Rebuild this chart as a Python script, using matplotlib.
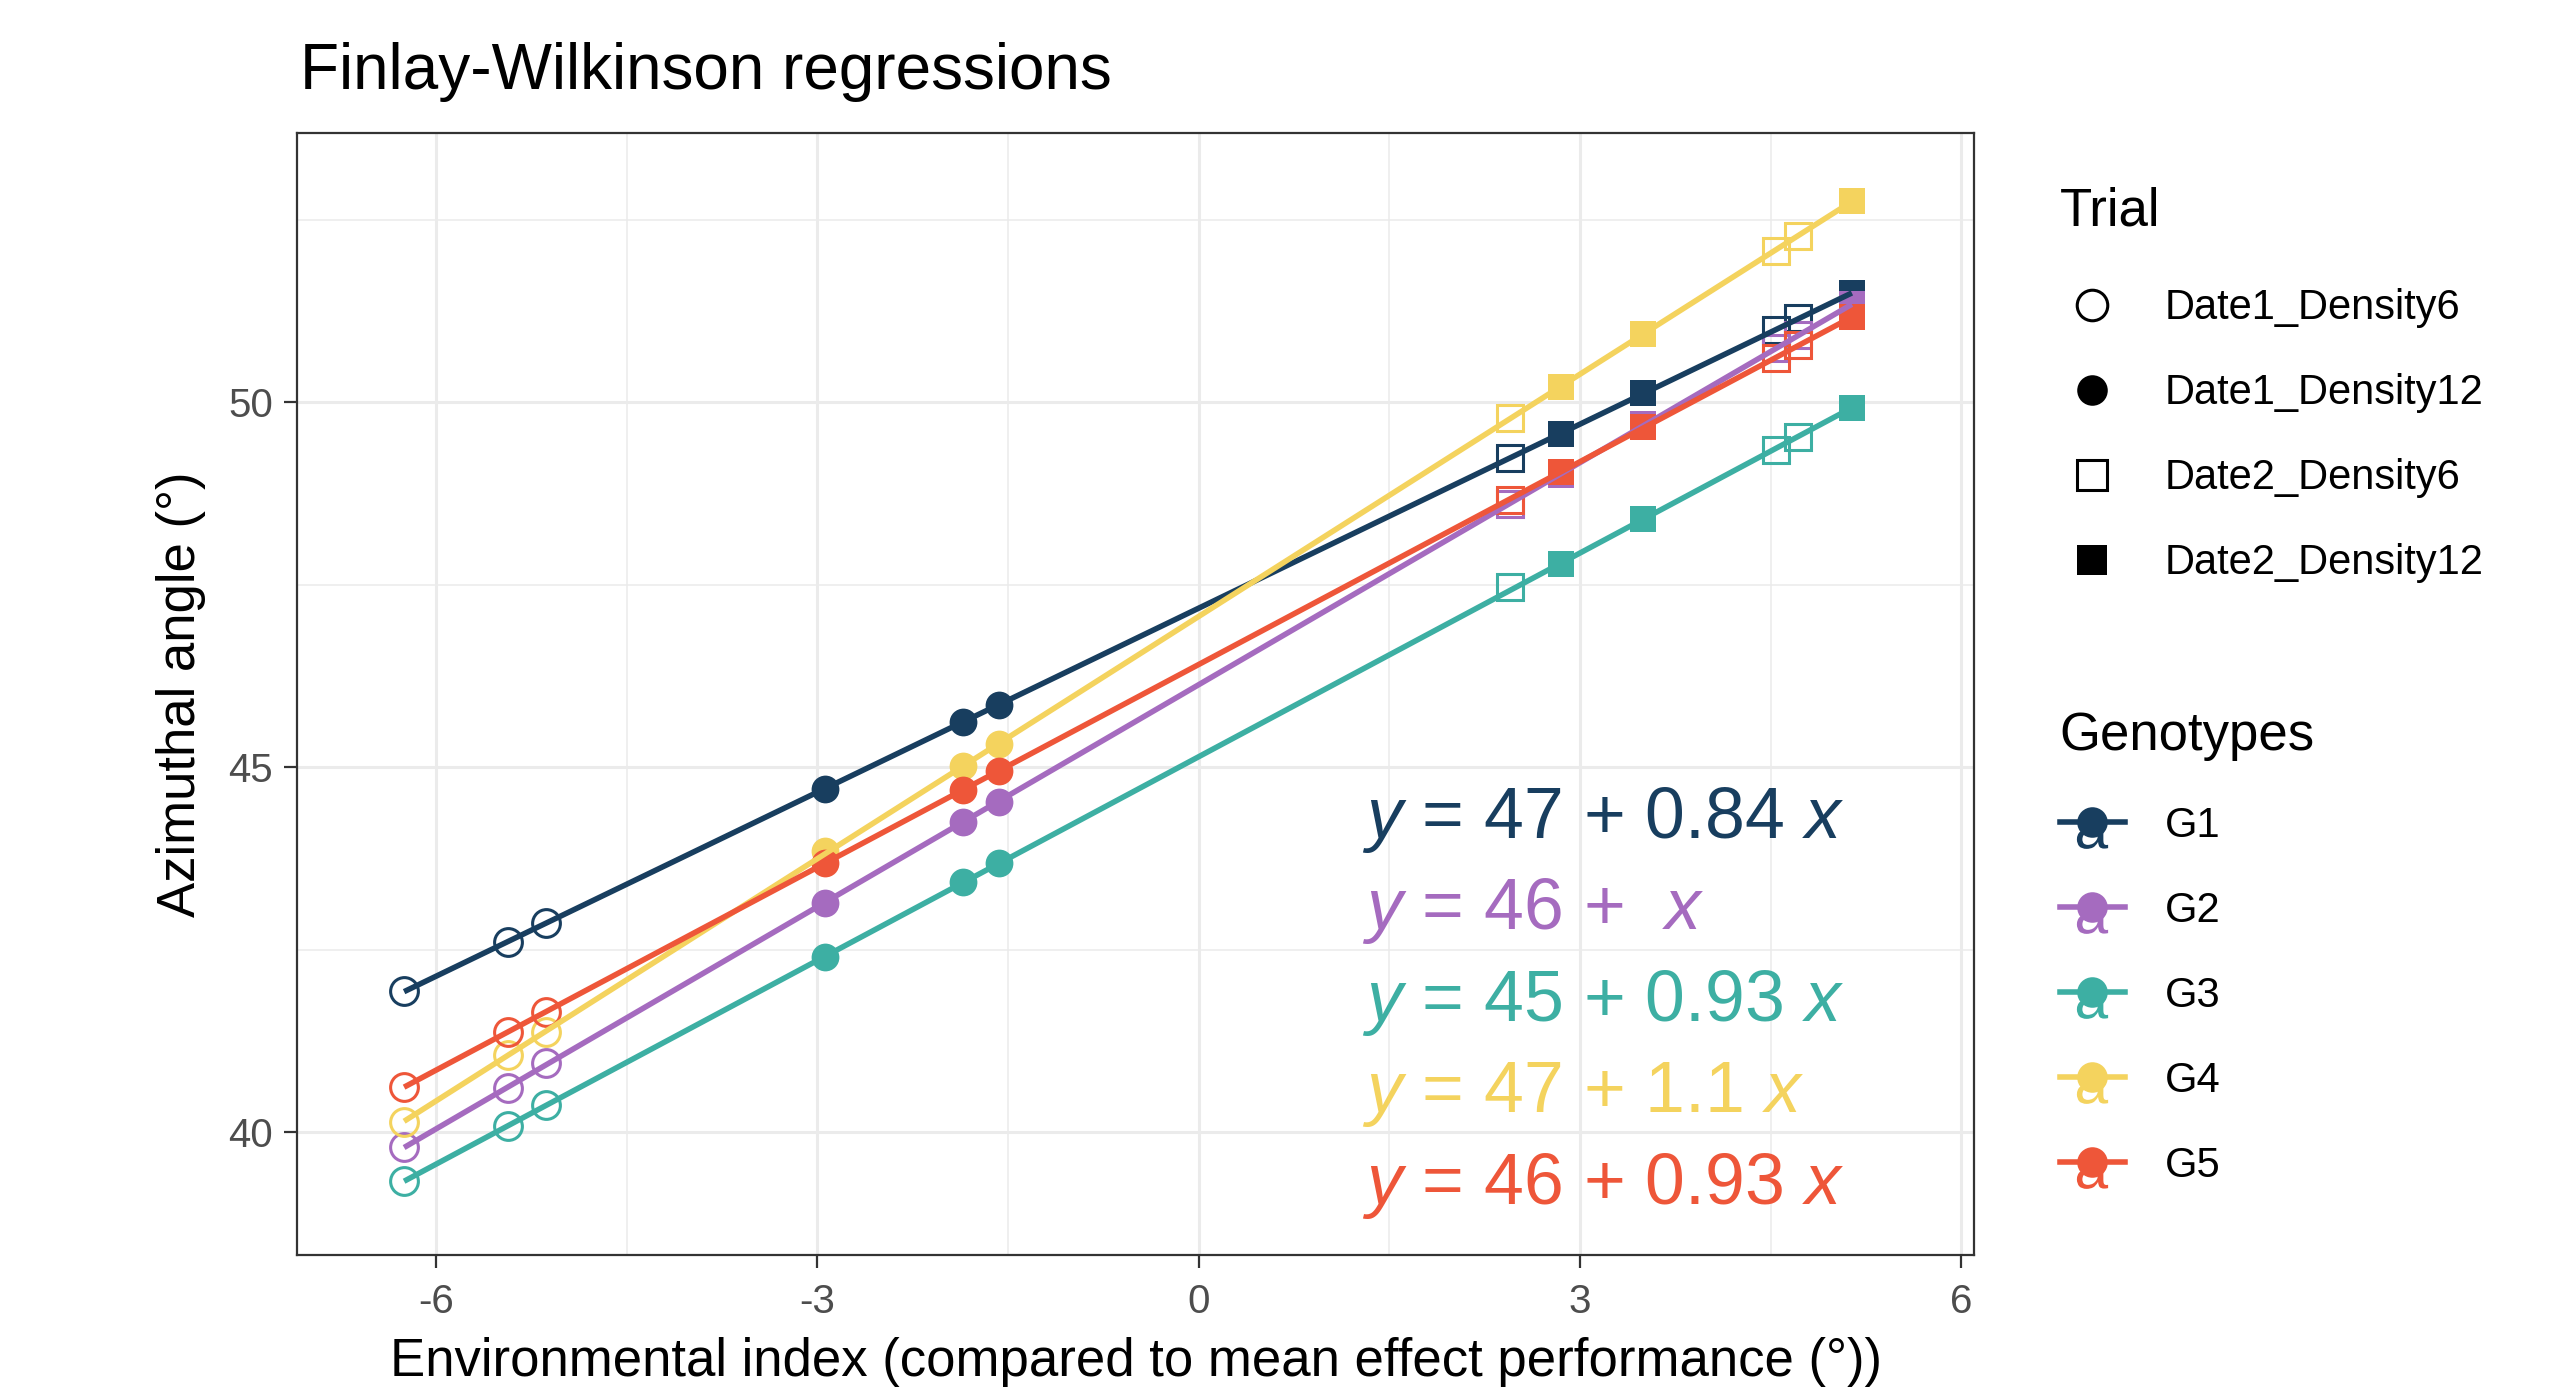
import numpy as np
import matplotlib
matplotlib.use('Agg')
import matplotlib.pyplot as plt
from matplotlib.lines import Line2D
from matplotlib.path import Path
from matplotlib.textpath import TextPath
from matplotlib.font_manager import FontProperties

plt.rcParams['font.family'] = ['Liberation Sans', 'DejaVu Sans']
plt.rcParams['mathtext.fontset'] = 'custom'
plt.rcParams['mathtext.rm'] = 'Liberation Sans'
plt.rcParams['mathtext.it'] = 'Liberation Sans:italic'
plt.rcParams['axes.unicode_minus'] = False

# environments: 3 per trial
trials = ['Date1_Density6', 'Date1_Density12', 'Date2_Density6', 'Date2_Density12']
env_trial = ['Date1_Density6'] * 3 + ['Date1_Density12'] * 3 + ['Date2_Density6'] * 3 + ['Date2_Density12'] * 3
env_index = [-6.25, -5.43, -5.13, -2.94, -1.85, -1.57, 2.45, 4.54, 4.72, 2.85, 3.50, 5.14]

genotypes = ['G1', 'G2', 'G3', 'G4', 'G5']
colors = ['#183E5F', '#A56BBF', '#3DAFA3', '#F4D35E', '#EE5639']

g1 = [41.93, 42.61, 42.87, 44.70, 45.62, 45.85, 49.24, 50.99, 51.15, 49.56, 50.13, 51.49]
g2 = [39.80, 40.61, 40.94, 43.14, 44.25, 44.52, 48.60, 50.74, 50.92, 49.00, 49.70, 51.34]
g3 = [39.33, 40.08, 40.37, 42.40, 43.42, 43.68, 47.47, 49.35, 49.52, 47.78, 48.40, 49.92]
g4 = [40.14, 41.05, 41.37, 43.85, 45.02, 45.32, 49.78, 52.07, 52.28, 50.21, 50.94, 52.75]
g5 = [40.62, 41.37, 41.65, 43.69, 44.69, 44.95, 48.66, 50.60, 50.78, 49.04, 49.66, 51.17]
azimuth = [g1, g2, g3, g4, g5]

equations = [r'$y$ = 47 + 0.84 $x$', r'$y$ = 46 +  $x$', r'$y$ = 45 + 0.93 $x$',
             r'$y$ = 47 + 1.1 $x$', r'$y$ = 46 + 0.93 $x$']

trial_marker = {'Date1_Density6': 'o', 'Date1_Density12': 'o',
                'Date2_Density6': 's', 'Date2_Density12': 's'}
trial_filled = {'Date1_Density6': False, 'Date1_Density12': True,
                'Date2_Density6': False, 'Date2_Density12': True}

fig = plt.figure(figsize=(12.81, 6.97), dpi=200)
ax = fig.add_axes([0.1161, 0.0995, 0.6544, 0.8052])

x = np.array(env_index)
tr = np.array(env_trial)

# points first, then regression lines on top (ggplot layer order)
for vals, col in zip(azimuth, colors):
    y = np.array(vals)
    for t in trials:
        m = tr == t
        ms = 10 if trial_marker[t] == 'o' else 9.5
        ax.plot(x[m], y[m], ls='none', marker=trial_marker[t], ms=ms,
                mfc=col if trial_filled[t] else 'none', mec=col,
                mew=1.1 if not trial_filled[t] else 0, zorder=2)

for vals, col in zip(azimuth, colors):
    b, a = np.polyfit(x, vals, 1)
    xx = np.array([x.min(), x.max()])
    ax.plot(xx, a + b * xx, color=col, lw=2.0, zorder=3, solid_capstyle='butt')

for i, (eq, col) in enumerate(zip(equations, colors)):
    ax.text(1.29, 44.03 - i * 1.253, eq, color=col, fontsize=25.8,
            ha='left', va='baseline', zorder=4)

ax.set_xlim(-7.089, 6.101)
ax.set_ylim(38.312, 53.689)
ax.set_xticks([-6, -3, 0, 3, 6])
ax.set_xticks([-4.5, -1.5, 1.5, 4.5], minor=True)
ax.set_yticks([40, 45, 50])
ax.set_yticks([42.5, 47.5, 52.5], minor=True)
ax.grid(which='major', color='#EBEBEB', lw=1.1)
ax.grid(which='minor', color='#EBEBEB', lw=0.55)
ax.set_axisbelow(True)
ax.tick_params(which='major', length=4.8, width=0.8, color='#333333',
               labelcolor='#4D4D4D', labelsize=14.5)
ax.tick_params(axis='x', pad=5)
ax.tick_params(axis='y', pad=4)
ax.tick_params(which='minor', length=0)
for s in ax.spines.values():
    s.set_color('#333333')
    s.set_linewidth(0.8)

ax.set_xlabel('Environmental index (compared to mean effect performance (°))', fontsize=19, labelpad=6)
ax.set_ylabel('Azimuthal angle (°)', fontsize=19, labelpad=8)
fig.text(0.117, 0.936, 'Finlay-Wilkinson regressions', fontsize=23, ha='left', va='baseline')

# legends
trial_handles = [Line2D([], [], ls='none', marker=trial_marker[t], ms=11 if trial_marker[t] == 'o' else 10.5,
                        mfc='black' if trial_filled[t] else 'none', mec='black',
                        mew=1.1 if not trial_filled[t] else 0) for t in trials]
leg1 = fig.legend(trial_handles, trials, title='Trial', loc='upper left',
                  bbox_to_anchor=(0.804, 0.866), frameon=False, fontsize=15,
                  title_fontsize=19, alignment='left', borderaxespad=0, borderpad=0,
                  labelspacing=1.08, handlelength=1.56, handletextpad=0.96)
leg1._legend_box.sep = 18.5

a_path = TextPath((0, 0), 'a', size=1, prop=FontProperties(family='Liberation Sans'))
ok = a_path.codes != Path.CLOSEPOLY
v = a_path.vertices
cx = (v[ok, 0].min() + v[ok, 0].max()) / 2
cy = (v[ok, 1].min() + v[ok, 1].max()) / 2
a_marker = Path(v - [cx, cy + 0.16], a_path.codes)

geno_handles = []
for col in colors:
    letter = Line2D([], [], ls='none', marker=a_marker, ms=19, mfc=col, mec='none')
    pt = Line2D([], [], color=col, lw=2.0, marker='o', ms=11, mfc=col, mec=col, mew=0)
    geno_handles.append((letter, pt))
leg2 = fig.legend(geno_handles, genotypes, title='Genotypes', loc='upper left',
                  bbox_to_anchor=(0.804, 0.49), frameon=False, fontsize=15,
                  title_fontsize=19, alignment='left', borderaxespad=0, borderpad=0,
                  labelspacing=1.08, handlelength=1.56, handletextpad=0.96)

fig.savefig('out.png', dpi=200)
